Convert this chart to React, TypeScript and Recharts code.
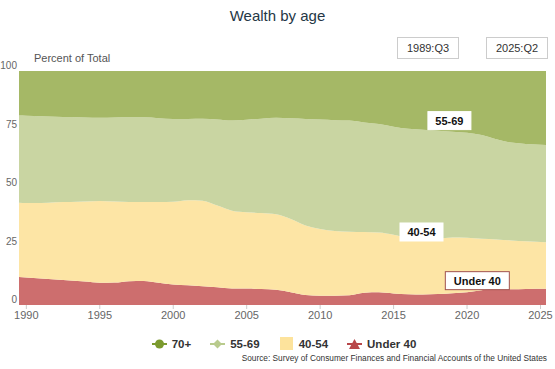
import { AreaChart, Area, XAxis, YAxis, ReferenceDot, Legend } from "recharts";

const years = [
  1989.5, 1990, 1991, 1992, 1993, 1994, 1995, 1996, 1997, 1998, 1999, 2000, 2001, 2002,
  2003, 2004, 2005, 2006, 2007, 2008, 2009, 2010, 2011, 2012, 2013, 2014, 2015, 2016,
  2017, 2018, 2019, 2020, 2021, 2022, 2023, 2024, 2025.375,
];
const under40 = [
  12.0, 11.8, 11.3, 10.9, 10.5, 10.0, 9.5, 9.6, 10.2, 10.3, 9.5, 8.8, 8.4, 8.0, 7.6, 7.1,
  7.0, 6.8, 6.5, 5.5, 4.3, 4.0, 4.0, 4.2, 5.2, 5.4, 4.9, 4.6, 4.5, 4.7, 5.0, 5.4, 6.3, 7.0,
  6.7, 6.8, 6.9,
];
const age40to54 = [
  31.7, 31.8, 32.3, 33.0, 33.5, 34.2, 34.9, 34.6, 33.8, 33.7, 34.5, 35.3, 36.4, 36.6, 34.9,
  33.2, 32.6, 32.5, 32.3, 31.3, 29.7, 28.5, 27.6, 27.1, 26.0, 25.6, 25.1, 24.0, 23.7, 23.6,
  23.8, 23.3, 22.0, 21.0, 20.9, 20.4, 19.9,
];
const age55to69 = [
  37.3, 37.3, 37.1, 36.6, 36.3, 35.9, 35.6, 35.9, 36.2, 36.2, 35.8, 35.4, 34.7, 35.0, 36.8,
  38.5, 39.6, 40.3, 41.2, 43.0, 45.5, 46.8, 47.4, 47.5, 46.8, 46.3, 46.2, 46.7, 46.7, 46.2,
  45.2, 44.9, 44.3, 42.8, 41.8, 41.6, 41.6,
];
const age70plus = [
  19.0, 19.1, 19.3, 19.5, 19.7, 19.9, 20.0, 19.9, 19.8, 19.8, 20.2, 20.5, 20.5, 20.4, 20.7,
  21.2, 20.8, 20.4, 20.0, 20.2, 20.5, 20.7, 21.0, 21.2, 22.0, 22.7, 23.8, 24.7, 25.1, 25.5,
  26.0, 26.4, 27.4, 29.2, 30.6, 31.2, 31.6,
];
const xTicks = [1990, 1995, 2000, 2005, 2010, 2015, 2020, 2025];
const yTicks = [0, 25, 50, 75, 100];

const data = years.map((year, i) => ({
  year,
  under40: under40[i],
  a40: age40to54[i],
  a55: age55to69[i],
  a70: age70plus[i],
}));

const FONT = '"Liberation Sans", Arial, sans-serif';

const legendItems = [
  { name: "70+", color: "#7b9a2e", shape: "circle" },
  { name: "55-69", color: "#b9cb8d", shape: "diamond" },
  { name: "40-54", color: "#fde39c", shape: "square" },
  { name: "Under 40", color: "#b8474a", shape: "triangle" },
];

function LegendIcon({ shape, color }: { shape: string; color: string }) {
  return (
    <svg width={15} height={14} style={{ marginRight: 5 }}>
      {shape !== "square" && <line x1={0} y1={7} x2={15} y2={7} stroke={color} strokeWidth={2} />}
      {shape === "circle" && <circle cx={7.5} cy={7} r={4.5} fill={color} />}
      {shape === "diamond" && <path d="M7.5 2.5 L12 7 L7.5 11.5 L3 7 Z" fill={color} />}
      {shape === "square" && <rect x={1} y={0} width={13} height={13} fill={color} />}
      {shape === "triangle" && <path d="M7.5 2 L13 12 L2 12 Z" fill={color} />}
    </svg>
  );
}

function renderLegend() {
  return (
    <div style={{ display: "flex", justifyContent: "center", fontFamily: FONT, paddingLeft: 22 }}>
      {legendItems.map((it, i) => (
        <div key={it.name} style={{ display: "flex", alignItems: "center", marginRight: i < 3 ? 19 : 0 }}>
          <LegendIcon shape={it.shape} color={it.color} />
          <span style={{ fontSize: 11.5, fontWeight: "bold", color: "#333" }}>{it.name}</span>
        </div>
      ))}
    </div>
  );
}

function boxLabel(text: string, border: string) {
  return (props: any) => {
    const vb = props.viewBox || {};
    const cx = vb.x + (vb.width || 0) / 2;
    const cy = vb.y + (vb.height || 0) / 2;
    const w = text.length * 7 + 8;
    return (
      <g>
        <rect x={cx - w / 2} y={cy - 9} width={w} height={18} fill="#fff" stroke={border} strokeWidth={1} />
        <text x={cx} y={cy + 4} textAnchor="middle" fontSize={11} fontWeight="bold" fontFamily={FONT} fill="#111">
          {text}
        </text>
      </g>
    );
  };
}

const YTick = (props: any) => {
  const { y, payload } = props;
  return (
    <text x={17} y={y - 2} textAnchor="end" fontSize={10} fill="#666" fontFamily={FONT}>
      {payload.value}
    </text>
  );
};

const boxStyle = {
  position: "absolute" as const,
  top: 37,
  width: 60,
  height: 20,
  border: "1px solid #ccc",
  fontFamily: FONT,
  fontSize: 11,
  color: "#333",
  textAlign: "center" as const,
  lineHeight: "20px",
};

export default function App() {
  return (
    <div style={{ position: "absolute", left: 0, top: 0, width: 555, height: 369, background: "#fff" }}>
      <div style={{ position: "absolute", top: 7, width: 555, textAlign: "center", fontFamily: FONT, fontSize: 15, color: "#253746" }}>
        Wealth by age
      </div>
      <div style={{ ...boxStyle, left: 397 }}>1989:Q3</div>
      <div style={{ ...boxStyle, left: 486 }}>2025:Q2</div>
      <div style={{ position: "absolute", left: 34, top: 52, fontFamily: FONT, fontSize: 11, color: "#555" }}>
        Percent of Total
      </div>
      <AreaChart width={555} height={369} data={data} margin={{ top: 71, right: 9, bottom: 0, left: 0 }}>
        <XAxis
          dataKey="year"
          type="number"
          domain={[1989.5, 2025.375]}
          ticks={xTicks}
          axisLine={false}
          tickLine={{ stroke: "#ccc" }}
          tickSize={4}
          tick={{ fontSize: 11, fill: "#666", fontFamily: FONT }}
          height={32}
        />
        <YAxis
          type="number"
          domain={[0, 100]}
          ticks={yTicks}
          axisLine={false}
          tickLine={false}
          tick={<YTick />}
          width={19}
        />
        <Legend verticalAlign="bottom" content={renderLegend} height={32} />
        <Area type="monotone" dataKey="under40" stackId="1" stroke="none" fill="#cd6e6e" fillOpacity={1} isAnimationActive={false} />
        <Area type="monotone" dataKey="a40" stackId="1" stroke="none" fill="#fde5a5" fillOpacity={1} isAnimationActive={false} />
        <Area type="monotone" dataKey="a55" stackId="1" stroke="none" fill="#c9d5a2" fillOpacity={1} isAnimationActive={false} />
        <Area type="monotone" dataKey="a70" stackId="1" stroke="none" fill="#a5b866" fillOpacity={1} isAnimationActive={false} />
        <ReferenceDot x={2018.8} y={78.8} r={0} label={boxLabel("55-69", "#fff")} />
        <ReferenceDot x={2016.9} y={31.2} r={0} label={boxLabel("40-54", "#fff")} />
        <ReferenceDot x={2020.7} y={10.4} r={0} label={boxLabel("Under 40", "#a0524f")} />
      </AreaChart>
      <div style={{ position: "absolute", right: 8, top: 353, fontFamily: FONT, fontSize: 8.3, color: "#333" }}>
        Source: Survey of Consumer Finances and Financial Accounts of the United States
      </div>
    </div>
  );
}
